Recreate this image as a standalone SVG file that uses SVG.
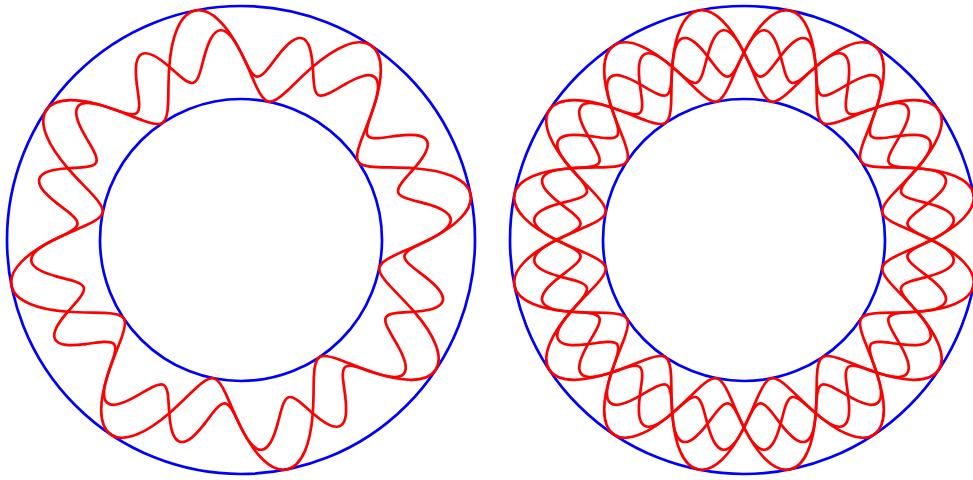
<svg xmlns="http://www.w3.org/2000/svg" width="973" height="480" viewBox="0 0 973 480">
<style>
.ring{fill:none;stroke:#0000ff;stroke-width:2.7}
.curve{fill:none;stroke:#ff0000;stroke-width:2.7;stroke-linecap:round;stroke-linejoin:round}
</style>
<defs>
<path id="zig" d="M0,-234 C7.658,-234 15.268,-228.592 21.601,-219.319 C27.934,-210.046 32.936,-197.034 36.579,-183.897 C40.222,-170.760 42.541,-157.668 44.884,-147.962 C47.227,-138.256 49.695,-132.033 53.958,-130.267 C58.221,-128.501 64.367,-131.157 72.887,-136.363 C81.407,-141.569 92.304,-149.188 104.169,-155.901 C116.034,-162.614 128.771,-168.277 139.807,-170.356 C150.843,-172.435 160.048,-170.878 165.463,-165.463"/>
<path id="wav" d="M0,-187.5 C3.068,-193.587 6.463,-199.559 10.007,-203.694 C13.551,-207.829 17.225,-210.073 20.657,-209.735 C24.089,-209.397 27.255,-206.480 29.924,-201.733 C32.593,-196.986 34.757,-190.465 36.579,-183.897 C38.401,-177.329 39.895,-170.789 41.564,-165.934 C43.233,-161.079 45.107,-157.957 47.679,-157.177 C50.251,-156.397 53.543,-157.951 57.628,-161.060 C61.713,-164.169 66.589,-168.778 71.753,-173.228"/>
</defs>
<g id="left-annulus" transform="translate(241,240)">
<circle class="ring" r="234"/>
<circle class="ring" r="141"/>
<g class="curve">
<use href="#zig" transform="rotate(33.75)"/>
<use href="#zig" transform="rotate(78.75)"/>
<use href="#zig" transform="rotate(123.75)"/>
<use href="#zig" transform="rotate(168.75)"/>
<use href="#zig" transform="rotate(213.75)"/>
<use href="#zig" transform="rotate(258.75)"/>
<use href="#zig" transform="rotate(303.75)"/>
<use href="#zig" transform="rotate(348.75)"/>
<use href="#wav" transform="rotate(11.25)"/>
<use href="#wav" transform="rotate(33.75)"/>
<use href="#wav" transform="rotate(56.25)"/>
<use href="#wav" transform="rotate(78.75)"/>
<use href="#wav" transform="rotate(101.25)"/>
<use href="#wav" transform="rotate(123.75)"/>
<use href="#wav" transform="rotate(146.25)"/>
<use href="#wav" transform="rotate(168.75)"/>
<use href="#wav" transform="rotate(191.25)"/>
<use href="#wav" transform="rotate(213.75)"/>
<use href="#wav" transform="rotate(236.25)"/>
<use href="#wav" transform="rotate(258.75)"/>
<use href="#wav" transform="rotate(281.25)"/>
<use href="#wav" transform="rotate(303.75)"/>
<use href="#wav" transform="rotate(326.25)"/>
<use href="#wav" transform="rotate(348.75)"/>
</g>
</g>
<g id="right-annulus" transform="translate(744,240)">
<circle class="ring" r="234"/>
<circle class="ring" r="141"/>
<g class="curve">
<use href="#zig" transform="rotate(11.25)"/>
<use href="#zig" transform="rotate(33.75)"/>
<use href="#zig" transform="rotate(56.25)"/>
<use href="#zig" transform="rotate(78.75)"/>
<use href="#zig" transform="rotate(101.25)"/>
<use href="#zig" transform="rotate(123.75)"/>
<use href="#zig" transform="rotate(146.25)"/>
<use href="#zig" transform="rotate(168.75)"/>
<use href="#zig" transform="rotate(191.25)"/>
<use href="#zig" transform="rotate(213.75)"/>
<use href="#zig" transform="rotate(236.25)"/>
<use href="#zig" transform="rotate(258.75)"/>
<use href="#zig" transform="rotate(281.25)"/>
<use href="#zig" transform="rotate(303.75)"/>
<use href="#zig" transform="rotate(326.25)"/>
<use href="#zig" transform="rotate(348.75)"/>
<use href="#wav" transform="rotate(0)"/>
<use href="#wav" transform="rotate(11.25)"/>
<use href="#wav" transform="rotate(22.5)"/>
<use href="#wav" transform="rotate(33.75)"/>
<use href="#wav" transform="rotate(45)"/>
<use href="#wav" transform="rotate(56.25)"/>
<use href="#wav" transform="rotate(67.5)"/>
<use href="#wav" transform="rotate(78.75)"/>
<use href="#wav" transform="rotate(90)"/>
<use href="#wav" transform="rotate(101.25)"/>
<use href="#wav" transform="rotate(112.5)"/>
<use href="#wav" transform="rotate(123.75)"/>
<use href="#wav" transform="rotate(135)"/>
<use href="#wav" transform="rotate(146.25)"/>
<use href="#wav" transform="rotate(157.5)"/>
<use href="#wav" transform="rotate(168.75)"/>
<use href="#wav" transform="rotate(180)"/>
<use href="#wav" transform="rotate(191.25)"/>
<use href="#wav" transform="rotate(202.5)"/>
<use href="#wav" transform="rotate(213.75)"/>
<use href="#wav" transform="rotate(225)"/>
<use href="#wav" transform="rotate(236.25)"/>
<use href="#wav" transform="rotate(247.5)"/>
<use href="#wav" transform="rotate(258.75)"/>
<use href="#wav" transform="rotate(270)"/>
<use href="#wav" transform="rotate(281.25)"/>
<use href="#wav" transform="rotate(292.5)"/>
<use href="#wav" transform="rotate(303.75)"/>
<use href="#wav" transform="rotate(315)"/>
<use href="#wav" transform="rotate(326.25)"/>
<use href="#wav" transform="rotate(337.5)"/>
<use href="#wav" transform="rotate(348.75)"/>
</g>
</g>
</svg>
